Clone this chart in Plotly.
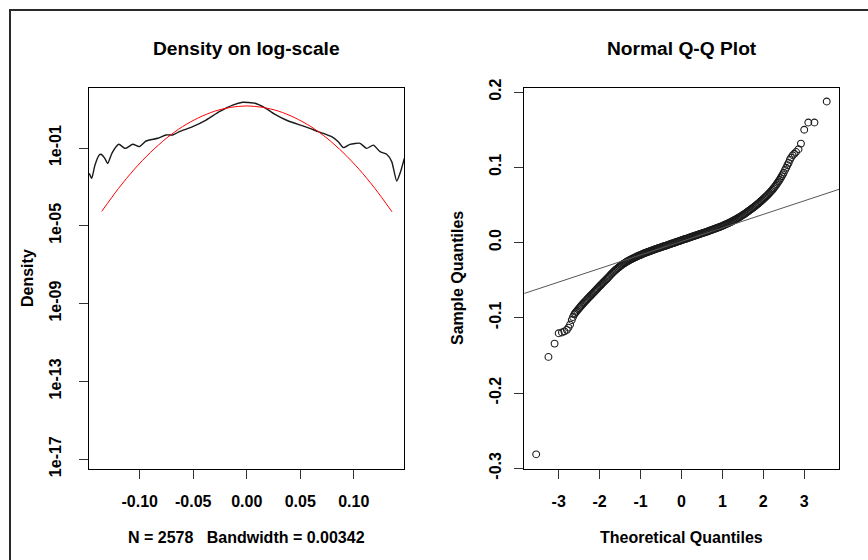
import plotly.graph_objects as go

# ---------------- data: left panel (density on log scale) ----------------
kde_x = [-0.1471, -0.1449, -0.1418, -0.1378, -0.1362, -0.1329, -0.1299, -0.1259,
         -0.1196, -0.1135, -0.1065, -0.1004, -0.0941, -0.0832, -0.0754, -0.0692,
         -0.0630, -0.0505, -0.0380, -0.0256, -0.0131, -0.0037, 0.0015, 0.0078,
         0.0171, 0.0264, 0.0389, 0.0545, 0.0669, 0.0794, 0.0856, 0.0903,
         0.0965, 0.1059, 0.1121, 0.1183, 0.1246, 0.1308, 0.1355, 0.1402,
         0.1433, 0.1473]
kde_density = [5.0e-3, 2.75e-3, 1.35e-2, 4.37e-2, 4.79e-2, 3.09e-2, 1.62e-2, 5.5e-2,
               0.155, 0.0955, 0.155, 0.117, 0.229, 0.316, 0.468, 0.468,
               0.692, 1.26, 2.75, 7.41, 16.2, 22.4, 21.9, 20.0,
               11.7, 5.37, 2.45, 1.26, 0.692, 0.380, 0.209, 0.105,
               0.155, 0.174, 0.0955, 0.141, 0.0646, 0.0479, 0.020, 2.0e-3,
               5.0e-3, 2.95e-2]

normal_x = [-0.1355, -0.12, -0.105, -0.09, -0.075, -0.06, -0.045, -0.03, -0.015, 0.0,
            0.015, 0.03, 0.045, 0.06, 0.075, 0.09, 0.105, 0.12, 0.1358]
normal_density = [5.5e-5, 8.1e-4, 8.1e-3, 0.059, 0.32, 1.26, 3.6, 7.8, 12.3, 14.5,
                  12.3, 7.8, 3.6, 1.26, 0.32, 0.059, 8.1e-3, 8.1e-4, 5.2e-5]

left_xticks = [-0.10, -0.05, 0.00, 0.05, 0.10]
left_xticklabels = ["-0.10", "-0.05", "0.00", "0.05", "0.10"]
left_yticks = [1e-17, 1e-13, 1e-9, 1e-5, 1e-1]
left_yticklabels = ["1e-17", "1e-13", "1e-09", "1e-05", "1e-01"]

# ---------------- data: right panel (normal Q-Q) ----------------
theoretical_q = [
    -3.55, -3.25, -3.10, -3.00, -2.92, -2.86, -2.80, -2.76, -2.72, -2.68, -2.65, -2.62,
    -2.600, -2.575, -2.550, -2.525, -2.500, -2.475, -2.450, -2.425, -2.400, -2.375,
    -2.350, -2.325, -2.300, -2.275, -2.250, -2.225, -2.200, -2.175, -2.150, -2.125,
    -2.100, -2.075, -2.050, -2.025, -2.000, -1.975, -1.950, -1.925, -1.900, -1.875,
    -1.850, -1.825, -1.800, -1.775, -1.750, -1.725, -1.700, -1.675, -1.650, -1.625,
    -1.600, -1.575, -1.550, -1.525, -1.500, -1.475, -1.450, -1.425, -1.400, -1.375,
    -1.350, -1.325, -1.300, -1.275, -1.250, -1.225, -1.200, -1.175, -1.150, -1.125,
    -1.100, -1.075, -1.050, -1.025, -1.000, -0.975, -0.950, -0.925, -0.900, -0.875,
    -0.850, -0.825, -0.800, -0.775, -0.750, -0.725, -0.700, -0.675, -0.650, -0.625,
    -0.600, -0.575, -0.550, -0.525, -0.500, -0.475, -0.450, -0.425, -0.400, -0.375,
    -0.350, -0.325, -0.300, -0.275, -0.250, -0.225, -0.200, -0.175, -0.150, -0.125,
    -0.100, -0.075, -0.050, -0.025, 0.000, 0.025, 0.050, 0.075, 0.100, 0.125,
    0.150, 0.175, 0.200, 0.225, 0.250, 0.275, 0.300, 0.325, 0.350, 0.375,
    0.400, 0.425, 0.450, 0.475, 0.500, 0.525, 0.550, 0.575, 0.600, 0.625,
    0.650, 0.675, 0.700, 0.725, 0.750, 0.775, 0.800, 0.825, 0.850, 0.875,
    0.900, 0.925, 0.950, 0.975, 1.000, 1.025, 1.050, 1.075, 1.100, 1.125,
    1.150, 1.175, 1.200, 1.225, 1.250, 1.275, 1.300, 1.325, 1.350, 1.375,
    1.400, 1.425, 1.450, 1.475, 1.500, 1.525, 1.550, 1.575, 1.600, 1.625,
    1.650, 1.675, 1.700, 1.725, 1.750, 1.775, 1.800, 1.825, 1.850, 1.875,
    1.900, 1.925, 1.950, 1.975, 2.000, 2.025, 2.050, 2.075, 2.100, 2.125,
    2.150, 2.175, 2.200, 2.225, 2.250, 2.275, 2.300, 2.325, 2.350, 2.375,
    2.400, 2.425, 2.450, 2.475, 2.500,
    2.53, 2.56, 2.59, 2.62, 2.65, 2.68, 2.72, 2.76, 2.80, 2.86, 2.92, 3.00,
    3.10, 3.25, 3.55]
sample_q = [
    -0.2815, -0.1520, -0.1343, -0.1206, -0.1195, -0.1180, -0.1160, -0.1130, -0.1090, -0.1030, -0.0990, -0.0955,
    -0.0940, -0.0923, -0.0906, -0.0889, -0.0872, -0.0856, -0.0841, -0.0825, -0.0810, -0.0795,
    -0.0781, -0.0766, -0.0752, -0.0737, -0.0723, -0.0709, -0.0695, -0.0680, -0.0666, -0.0652,
    -0.0638, -0.0623, -0.0609, -0.0594, -0.0580, -0.0566, -0.0552, -0.0538, -0.0525, -0.0511,
    -0.0497, -0.0483, -0.0470, -0.0455, -0.0440, -0.0425, -0.0410, -0.0397, -0.0385, -0.0372,
    -0.0360, -0.0348, -0.0337, -0.0326, -0.0315, -0.0305, -0.0295, -0.0285, -0.0276, -0.0267,
    -0.0259, -0.0251, -0.0243, -0.0235, -0.0228, -0.0221, -0.0214, -0.0207, -0.0201, -0.0194,
    -0.0188, -0.0182, -0.0176, -0.0170, -0.0164, -0.0158, -0.0152, -0.0146, -0.0141, -0.0135,
    -0.0130, -0.0125, -0.0120, -0.0115, -0.0110, -0.0105, -0.0100, -0.0095, -0.0090, -0.0085,
    -0.0081, -0.0076, -0.0072, -0.0067, -0.0063, -0.0058, -0.0053, -0.0049, -0.0044, -0.0040,
    -0.0035, -0.0031, -0.0026, -0.0021, -0.0016, -0.0012, -0.0007, -0.0003, 0.0002, 0.0007,
    0.0012, 0.0016, 0.0021, 0.0025, 0.0030, 0.0035, 0.0040, 0.0044, 0.0049, 0.0053,
    0.0058, 0.0062, 0.0067, 0.0072, 0.0077, 0.0081, 0.0086, 0.0090, 0.0095, 0.0099,
    0.0104, 0.0109, 0.0114, 0.0118, 0.0123, 0.0127, 0.0132, 0.0136, 0.0141, 0.0145,
    0.0150, 0.0155, 0.0160, 0.0165, 0.0170, 0.0175, 0.0180, 0.0185, 0.0190, 0.0195,
    0.0200, 0.0205, 0.0211, 0.0216, 0.0222, 0.0228, 0.0234, 0.0240, 0.0246, 0.0252,
    0.0259, 0.0265, 0.0272, 0.0279, 0.0286, 0.0293, 0.0300, 0.0308, 0.0316, 0.0324,
    0.0332, 0.0340, 0.0349, 0.0357, 0.0366, 0.0375, 0.0384, 0.0393, 0.0403, 0.0413,
    0.0423, 0.0433, 0.0443, 0.0453, 0.0464, 0.0474, 0.0485, 0.0496, 0.0507, 0.0518,
    0.0530, 0.0542, 0.0554, 0.0566, 0.0578, 0.0591, 0.0604, 0.0617, 0.0630, 0.0644,
    0.0659, 0.0673, 0.0688, 0.0704, 0.0721, 0.0738, 0.0755, 0.0775, 0.0795, 0.0815,
    0.0835, 0.0858, 0.0882, 0.0906, 0.0930,
    0.0965, 0.0995, 0.1030, 0.1060, 0.1100, 0.1130, 0.1160, 0.1180, 0.1205, 0.1240, 0.1316, 0.1500,
    0.1596, 0.1596, 0.1875]

qq_line_intercept = 0.0015
qq_line_slope = 0.0180

right_xticks = [-3, -2, -1, 0, 1, 2, 3]
right_xticklabels = ["-3", "-2", "-1", "0", "1", "2", "3"]
right_yticks = [-0.3, -0.2, -0.1, 0.0, 0.1, 0.2]
right_yticklabels = ["-0.3", "-0.2", "-0.1", "0.0", "0.1", "0.2"]

# ---------------- figure ----------------
W, H = 868, 560
FONT = "Liberation Sans, Arial, Helvetica, sans-serif"

fig = go.Figure()
fig.add_trace(go.Scatter(x=kde_x, y=kde_density, mode="lines",
                         line=dict(color="#1a1a1a", width=1.4, shape="spline", smoothing=0.6),
                         xaxis="x", yaxis="y", showlegend=False, hoverinfo="skip"))
fig.add_trace(go.Scatter(x=normal_x, y=normal_density, mode="lines",
                         line=dict(color="#ff0000", width=1, shape="spline", smoothing=0.8),
                         xaxis="x", yaxis="y", showlegend=False, hoverinfo="skip"))

fig.add_trace(go.Scatter(x=theoretical_q, y=sample_q, mode="markers",
                         marker=dict(symbol="circle-open", size=6.8, color="#1a1a1a",
                                     line=dict(width=1.1, color="#1a1a1a")),
                         xaxis="x2", yaxis="y2", showlegend=False, hoverinfo="skip"))
line_x = [-5, 5]
fig.add_trace(go.Scatter(x=line_x, y=[qq_line_intercept + qq_line_slope * v for v in line_x],
                         mode="lines", line=dict(color="#555555", width=1),
                         xaxis="x2", yaxis="y2", showlegend=False, hoverinfo="skip"))

axis_common = dict(showline=True, mirror=True, linecolor="#000", linewidth=1,
                   ticks="outside", ticklen=9, tickwidth=1, tickcolor="#333",
                   showgrid=False, zeroline=False, automargin=False,
                   tickfont=dict(size=16, color="#000"))

fig.update_layout(
    template="none",
    width=W, height=H, autosize=False, margin=dict(l=0, r=0, t=0, b=0, pad=0),
    paper_bgcolor="white", plot_bgcolor="white",
    font=dict(family=FONT, size=16, color="#000", weight="bold"),
    xaxis=dict(domain=[89 / W, 404 / W], range=[-0.1474, 0.1470],
               tickmode="array", tickvals=left_xticks, ticktext=left_xticklabels,
               ticklabelstandoff=9, anchor="y", **axis_common),
    yaxis=dict(domain=[1 - 469 / H, 1 - 88 / H], type="log", range=[-17.51, 2.086],
               tickmode="array", tickvals=left_yticks, ticktext=left_yticklabels,
               tickangle=-90, ticklabelstandoff=12, anchor="x", **axis_common),
    xaxis2=dict(domain=[524.3 / W, 839 / W], range=[-3.84, 3.85],
                tickmode="array", tickvals=right_xticks, ticktext=right_xticklabels,
                ticklabelstandoff=9, anchor="y2", **axis_common),
    yaxis2=dict(domain=[1 - 469 / H, 1 - 88 / H], range=[-0.301, 0.2055],
                tickmode="array", tickvals=right_yticks, ticktext=right_yticklabels,
                tickangle=-90, ticklabelstandoff=7, anchor="x2", **axis_common),
)

def ann(text, xpx, ypx, size, angle=0):
    fig.add_annotation(text=text, x=xpx / W, y=1 - ypx / H, xref="paper", yref="paper",
                       xanchor="center", yanchor="middle", showarrow=False,
                       textangle=angle, font=dict(size=size, family=FONT, color="#000", weight="bold"))

ann("Density on log-scale", 246.5, 48.5, 19.2)
ann("Normal Q-Q Plot", 681.7, 48.5, 19.2)
ann("N = 2578\u00a0\u00a0\u00a0Bandwidth = 0.00342", 246.5, 537.8, 16)
ann("Theoretical Quantiles", 681.7, 537.8, 16)
ann("Density", 27.5, 278.5, 16, -90)
ann("Sample Quantiles", 457.5, 278.5, 16, -90)

# outer frame (only top and left edges visible in the picture)
fig.add_shape(type="rect", xref="paper", yref="paper", x0=10 / W, x1=1.2, y0=-0.2, y1=1 - 10 / H,
              line=dict(color="#2a2a2a", width=2), fillcolor="rgba(0,0,0,0)", layer="above")

fig.write_html("out.html", config={"displayModeBar": False},
               post_script="document.body.style.margin='0px';document.body.style.overflow='hidden';")
